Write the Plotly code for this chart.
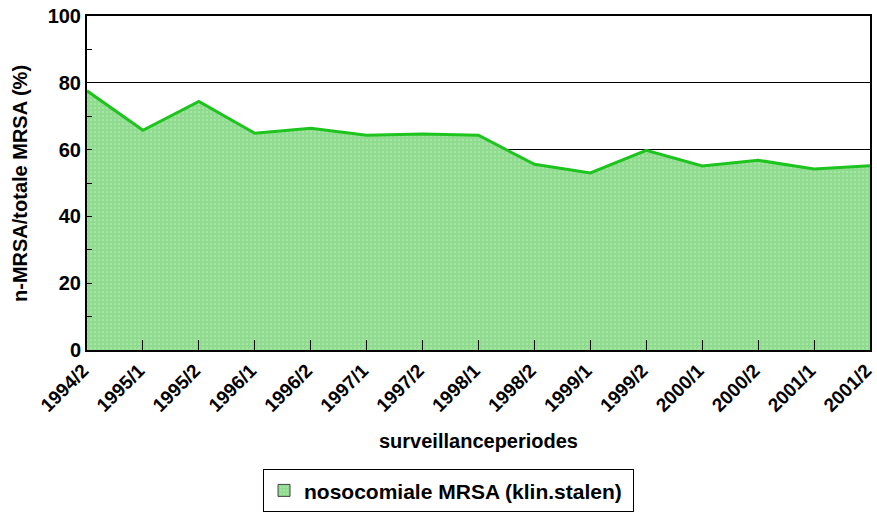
import plotly.graph_objects as go

periods = ["1994/2", "1995/1", "1995/2", "1996/1", "1996/2", "1997/1", "1997/2",
           "1998/1", "1998/2", "1999/1", "1999/2", "2000/1", "2000/2", "2001/1", "2001/2"]
nosocomial_pct = [77.6, 65.8, 74.4, 64.9, 66.4, 64.3, 64.7, 64.3, 55.6, 53.0,
                  59.8, 55.1, 56.8, 54.2, 55.2]
series_name = "nosocomiale MRSA (klin.stalen)"

FONT = "Liberation Sans, Arial, sans-serif"
GREEN = "#1ec41e"
PATTERN = dict(shape=".", fgcolor="#1fb91f", bgcolor="#ffffff", size=4, solidity=0.85)

fig = go.Figure()
fig.add_trace(go.Scatter(
    x=periods, y=nosocomial_pct,
    name=series_name,
    mode="lines",
    line=dict(color=GREEN, width=3),
    fill="tozeroy",
    fillcolor="rgba(0,0,0,0)",
    fillpattern=PATTERN,
    showlegend=False,
))
# legend entry (square swatch with pattern)
fig.add_trace(go.Bar(
    x=[periods[0]], y=[None],
    name="<b>" + series_name + "</b>&nbsp;",
    marker=dict(color="#ffffff", pattern=PATTERN, line=dict(color="#444444", width=1)),
    showlegend=True,
))

fig.update_layout(
    width=877, height=519,
    margin=dict(l=87, r=7, t=16, b=167),
    paper_bgcolor="white", plot_bgcolor="white",
    font=dict(family=FONT, color="black"),
    showlegend=True,
    legend=dict(
        x=0.2248, xanchor="left", y=-0.357, yanchor="top",
        orientation="h",
        bordercolor="black", borderwidth=1,
        font=dict(size=21, family=FONT, color="black"),
        bgcolor="white",
        itemwidth=30,
    ),
    xaxis=dict(
        type="category",
        range=[0, len(periods) - 1],
        automargin=False,
        showline=True, linecolor="black", linewidth=2, mirror=True,
        ticks="inside", ticklen=10, tickcolor="black", tickwidth=1,
        tickangle=-45,
        ticklabelshift=-4,
        tickfont=dict(size=19, family=FONT, color="black", weight="bold"),
        showgrid=False, zeroline=False,
    ),
    yaxis=dict(
        range=[0, 100],
        automargin=False,
        tickvals=[0, 20, 40, 60, 80, 100],
        ticktext=["<b>0</b>", "<b>20</b>", "<b>40</b>", "<b>60</b>", "<b>80</b>", "<b>100</b>"],
        showline=True, linecolor="black", linewidth=2, mirror=True,
        ticks="inside", ticklen=5, tickcolor="black",
        minor=dict(dtick=10, ticks="inside", ticklen=5, tickcolor="black", showgrid=False),
        tickfont=dict(size=20, family=FONT, color="black"),
        showgrid=True, gridcolor="black", gridwidth=1,
        zeroline=False,
    ),
    annotations=[
        dict(text="<b>surveillanceperiodes</b>", xref="paper", yref="paper",
             x=0.5, y=-0.271, xanchor="center", yanchor="middle", showarrow=False,
             font=dict(size=20, family=FONT, color="black")),
        dict(text="<b>n-MRSA/totale MRSA (%)</b>", xref="paper", yref="paper",
             x=-0.0856, y=0.5, xanchor="center", yanchor="middle", showarrow=False,
             textangle=-90, font=dict(size=20, family=FONT, color="black")),
    ],
)

fig.write_html(
    "out.html",
    config={"displayModeBar": False},
    post_script="document.body.style.margin='0px';document.body.style.overflow='hidden';",
)
